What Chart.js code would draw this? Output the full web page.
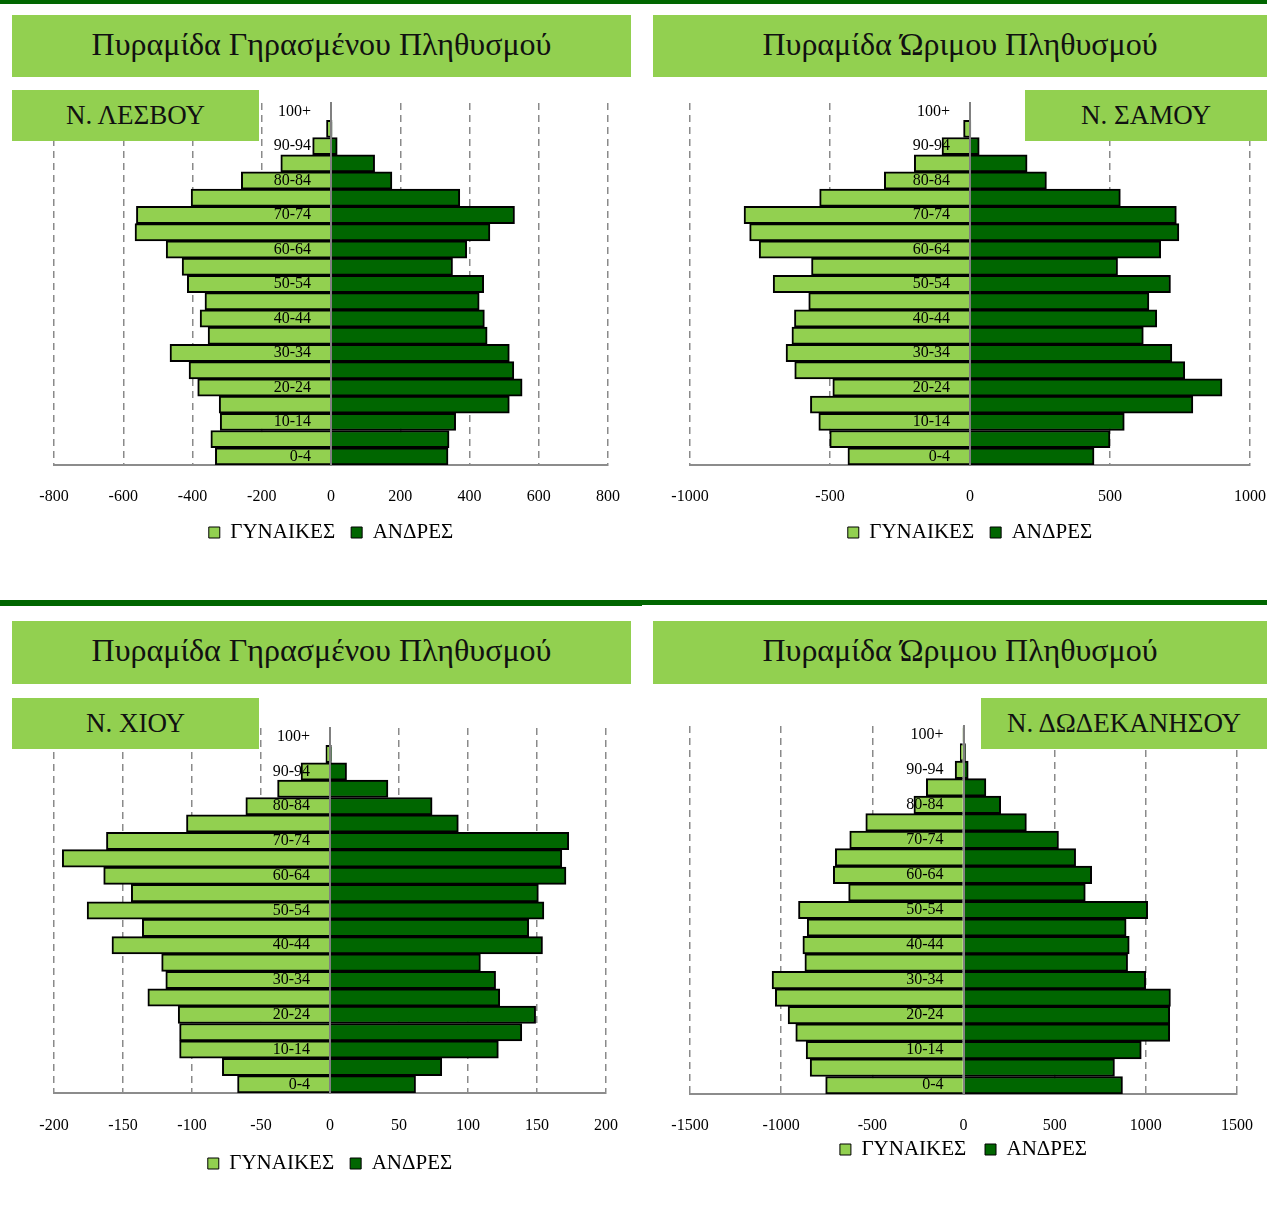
<!DOCTYPE html>
<html><head><meta charset="utf-8">
<script src="https://cdn.jsdelivr.net/npm/chart.js@4.4.1/dist/chart.umd.min.js"></script>
<style>
html,body{margin:0;padding:0;background:#fff;}
body{width:1267px;height:1229px;overflow:hidden;position:relative;font-family:'Liberation Serif','Times New Roman',serif;}
.line{position:absolute;background:#006600;}
.banner{position:absolute;background:#92D050;color:#111;display:flex;align-items:center;justify-content:center;font-size:32px;box-sizing:border-box;padding-bottom:4px;}
.label{position:absolute;background:#92D050;color:#111;display:flex;align-items:center;justify-content:center;font-size:27px;z-index:5;}
canvas{position:absolute;}
</style></head><body>
<div class="line" style="left:0;top:0;width:1267px;height:4px"></div>
<div class="line" style="left:0;top:600px;width:642px;height:6px"></div>
<div class="line" style="left:642px;top:600px;width:625px;height:5px"></div>

<div class="banner" style="left:12px;top:15px;width:619px;height:62px">Πυραμίδα Γηρασμένου Πληθυσμού</div>
<div class="banner" style="left:653px;top:15px;width:614px;height:62px">Πυραμίδα Ώριμου Πληθυσμού</div>
<div class="banner" style="left:12px;top:621px;width:619px;height:63px">Πυραμίδα Γηρασμένου Πληθυσμού</div>
<div class="banner" style="left:653px;top:621px;width:614px;height:63px">Πυραμίδα Ώριμου Πληθυσμού</div>

<div class="label" style="left:12px;top:90px;width:247px;height:51px">Ν. ΛΕΣΒΟΥ</div>
<div class="label" style="left:1025px;top:90px;width:242px;height:51px">Ν. ΣΑΜΟΥ</div>
<div class="label" style="left:12px;top:698px;width:247px;height:51px">Ν. ΧΙΟΥ</div>
<div class="label" style="left:981px;top:698px;width:286px;height:51px">Ν. ΔΩΔΕΚΑΝΗΣΟΥ</div>

<canvas id="c1" width="594" height="460" style="left:34px;top:93px;width:594px;height:460px"></canvas>
<canvas id="c2" width="597" height="460" style="left:670px;top:93px;width:597px;height:460px"></canvas>
<canvas id="c3" width="592" height="466" style="left:34px;top:718px;width:592px;height:466px"></canvas>
<canvas id="c4" width="587" height="454" style="left:670px;top:716px;width:587px;height:454px"></canvas>

<script>
// Age groups from youngest (bottom) to oldest (top)
const ageGroups = ['0-4','5-9','10-14','15-19','20-24','25-29','30-34','35-39','40-44','45-49','50-54','55-59','60-64','65-69','70-74','75-79','80-84','85-89','90-94','95-99','100+'];
const seriesNames = ['ΓΥΝΑΙΚΕΣ', 'ΑΝΔΡΕΣ'];

// Ν. ΛΕΣΒΟΥ
const lesvosWomen = [334,347,320,323,385,410,465,355,378,364,415,430,476,566,562,404,259,145,53,13,2];
const lesvosMen   = [338,341,360,515,552,528,515,451,443,428,441,351,392,459,530,372,176,126,18,3,0];
// Ν. ΣΑΜΟΥ
const samosWomen = [436,501,540,570,490,626,657,636,627,576,703,566,753,787,807,537,306,199,100,23,2];
const samosMen   = [443,500,551,796,900,767,721,619,667,639,716,527,681,746,737,537,273,204,33,3,0];
// Ν. ΧΙΟΥ
const chiosWomen = [67,78,109,109,110,132,119,122,158,136,176,144,164,194,162,104,61,38,21,3,0];
const chiosMen   = [62,81,122,139,149,123,120,109,154,144,155,151,171,168,173,93,74,42,12,1,0];
// Ν. ΔΩΔΕΚΑΝΗΣΟΥ
const dodWomen = [756,841,863,920,962,1032,1050,870,881,857,905,630,714,703,624,536,272,204,46,18,2];
const dodMen   = [872,828,975,1131,1131,1135,999,900,909,892,1010,668,703,615,521,345,204,123,26,11,1];

// axis limits / steps
const lesvosAxis = [-800, 800, 200];
const samosAxis  = [-1000, 1000, 500];
const chiosAxis  = [-200, 200, 50];
const dodAxis    = [-1500, 1500, 500];

const FONT = "'Liberation Serif', 'Times New Roman', serif";
const LIGHT = '#92D050';
const DARK = '#006600';

function pyramid(id, women, men, axis, cfg) {
  return new Chart(document.getElementById(id), {
    type: 'bar',
    data: {
      labels: ageGroups,
      datasets: [
        {label: seriesNames[0], data: women.map(v => -v), backgroundColor: LIGHT, borderColor: '#000', borderWidth: 2},
        {label: seriesNames[1], data: men, backgroundColor: DARK, borderColor: '#000', borderWidth: 2}
      ]
    },
    options: {
      indexAxis: 'y',
      responsive: false,
      animation: false,
      layout: {padding: cfg.pad},
      datasets: {bar: {barPercentage: 1, categoryPercentage: 1}},
      plugins: {
        legend: {
          position: 'bottom',
          labels: {
            font: {family: FONT, size: 21}, color: '#000', boxWidth: 11, boxHeight: 11, padding: cfg.legPad,
            generateLabels: (chart) => {
              const items = Chart.defaults.plugins.legend.labels.generateLabels(chart);
              items.forEach(it => { it.lineWidth = 1; });
              items[0].text += cfg.extra;
              return items;
            }
          }
        },
        tooltip: {enabled: false}
      },
      scales: {
        x: {
          stacked: true, min: axis[0], max: axis[1],
          ticks: {stepSize: axis[2], callback: v => String(v), font: {family: FONT, size: 16}, color: '#000', padding: cfg.tickPad, maxRotation: 0, autoSkip: false},
          grid: {color: '#8a8a8a', lineWidth: 1.5, drawTicks: false},
          border: {display: true, color: '#8c8c8c', width: 2, dash: [7, 5]},
          afterFit: s => { s.height = cfg.axisH; s.paddingLeft = 0; s.paddingRight = 0; }
        },
        y: {
          stacked: true, reverse: true, position: {x: 0},
          ticks: {autoSkip: false, z: 1, callback: (v) => (v % 2 === 0 ? ageGroups[v] + '     ' : ''), font: {family: FONT, size: 16}, color: '#000', padding: 0},
          grid: {display: false, drawTicks: false},
          border: {display: true, color: '#808080', width: 2, z: 1}
        }
      }
    }
  });
}

pyramid('c1', lesvosWomen, lesvosMen, lesvosAxis, {tickPad: 22, axisH: 41, legPad: 16, extra: '', pad: {left: 20, right: 20, top: 10, bottom: 0}});
pyramid('c2', samosWomen, samosMen, samosAxis, {tickPad: 22, axisH: 41, legPad: 16, extra: '', pad: {left: 20, right: 17, top: 10, bottom: 0}});
pyramid('c3', chiosWomen, chiosMen, chiosAxis, {tickPad: 23, axisH: 44, legPad: 16, extra: '', pad: {left: 20, right: 20, top: 10, bottom: 0}});
pyramid('c4', dodWomen, dodMen, dodAxis, {tickPad: 22, axisH: 42, legPad: 3, extra: '   ', pad: {left: 20, right: 20, top: 10, bottom: 0}});
</script>
</body></html>
